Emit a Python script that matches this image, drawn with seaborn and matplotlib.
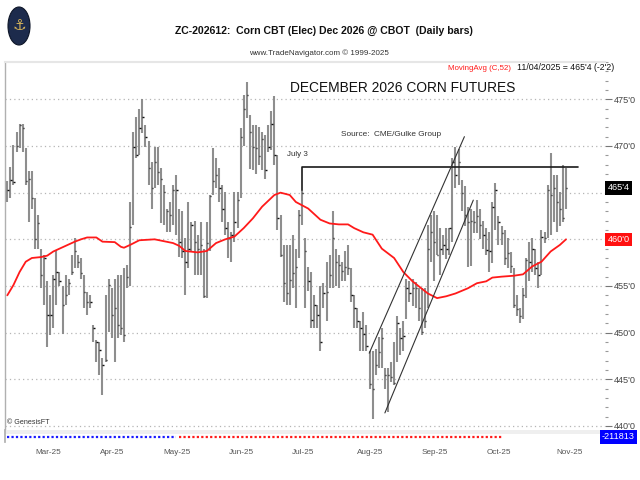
import numpy as np
import pandas as pd
import matplotlib
matplotlib.use("Agg")
import matplotlib.pyplot as plt
import matplotlib.transforms as mtransforms
from matplotlib.patches import Ellipse
from matplotlib.ticker import MultipleLocator, FuncFormatter
import seaborn as sns

# ---------------- data ----------------
holidays = ["2025-02-17", "2025-04-18", "2025-05-26", "2025-06-19", "2025-07-04", "2025-09-01"]
start_date = "2025-02-13"
end_date = "2025-11-04"

highs = [466.2, 467.7, 470.1, 471.5, 472.4, 472.4, 469.8, 467.3, 467.3, 464.4,
         462.6, 459.0, 458.3, 455.5, 454.0, 456.2, 458.9, 456.5, 455.0, 456.2,
         455.8, 458.3, 460.1, 458.3, 458.0, 456.2, 454.4, 454.0, 450.8, 449.2,
         449.0, 447.3, 454.0, 455.8, 454.8, 455.8, 456.2, 456.2, 456.9, 457.3,
         464.0, 471.5, 473.1, 474.0, 475.0, 472.3, 470.5, 468.3, 469.9, 469.9,
         467.6, 465.8, 463.3, 464.0, 465.8, 466.9, 463.3, 463.0, 460.1, 464.0,
         461.9, 462.0, 460.5, 461.9, 459.0, 461.9, 464.75, 469.75, 468.7, 467.6,
         465.8, 465.1, 461.9, 460.8, 465.1, 465.1, 471.9, 475.5, 476.9, 473.3,
         472.25, 472.25, 472.0, 471.5, 471.2, 472.25, 473.7, 475.4, 469.0, 462.6,
         459.4, 459.4, 459.4, 460.5, 459.0, 463.1, 465.3, 460.1, 457.0, 456.5,
         454.0, 453.0, 455.0, 455.3, 457.6, 458.3, 463.0, 459.0, 458.3, 457.6,
         458.7, 459.4, 456.9, 454.0, 452.6, 451.2, 452.25, 450.8, 448.0, 448.0,
         448.25, 449.5, 450.5, 446.2, 446.2, 446.9, 449.0, 451.8, 450.5, 451.2,
         455.8, 455.5, 455.8, 455.4, 454.75, 454.75, 454.75, 461.5, 462.6, 463.0,
         462.6, 461.2, 460.5, 461.2, 461.2, 468.7, 469.9, 469.7, 466.4, 465.7,
         463.5, 463.3, 463.0, 464.2, 463.3, 462.0, 461.2, 460.8, 464.0, 466.0,
         462.5, 461.4, 461.0, 460.1, 458.6, 456.9, 454.0, 452.6, 454.75, 458.0,
         459.75, 460.1, 459.0, 457.6, 461.0, 460.8, 465.8, 469.2, 466.9, 466.9,
         465.1, 468.0, 467.6]
lows = [464.0, 464.4, 465.8, 469.4, 469.8, 469.4, 465.8, 461.9, 463.3, 459.0,
        459.0, 454.8, 453.0, 448.5, 449.8, 450.5, 453.0, 455.0, 449.9, 453.0,
        454.0, 456.2, 456.9, 456.9, 455.8, 452.6, 451.9, 452.6, 449.0, 446.9,
        445.5, 443.3, 446.9, 450.1, 449.4, 446.9, 449.4, 449.8, 449.0, 454.8,
        455.0, 461.5, 468.7, 469.0, 471.4, 469.9, 465.8, 463.3, 465.5, 465.8,
        461.7, 461.5, 460.8, 460.8, 461.5, 460.5, 458.1, 458.0, 454.0, 456.9,
        458.7, 456.2, 456.2, 456.2, 453.7, 453.7, 458.7, 464.75, 465.5, 464.0,
        461.9, 460.5, 458.0, 457.6, 459.75, 461.2, 464.4, 470.0, 473.0, 467.5,
        467.4, 467.0, 468.0, 467.4, 466.5, 469.4, 469.6, 468.0, 461.0, 458.1,
        453.3, 453.0, 453.0, 454.75, 452.6, 458.0, 461.5, 452.6, 454.5, 450.5,
        450.5, 450.5, 448.0, 452.6, 451.2, 454.75, 454.75, 455.0, 454.75, 455.5,
        455.5, 456.2, 453.3, 450.5, 450.5, 448.0, 448.0, 448.0, 444.0, 440.8,
        445.5, 446.2, 446.2, 444.0, 441.5, 444.75, 444.4, 446.9, 447.6, 448.0,
        451.5, 453.3, 452.9, 452.6, 451.2, 449.75, 450.5, 452.6, 457.6, 455.5,
        458.3, 456.2, 458.3, 457.9, 458.3, 459.75, 465.5, 465.8, 463.0, 461.4,
        457.0, 457.1, 460.7, 460.7, 460.0, 459.0, 458.3, 456.5, 457.5, 461.0,
        459.4, 459.4, 457.3, 456.9, 456.4, 452.6, 451.8, 451.0, 451.5, 453.7,
        455.5, 456.5, 456.2, 454.75, 456.2, 459.6, 460.1, 460.5, 461.9, 460.8,
        461.4, 461.9, 463.3]
closes = [465.3, 466.4, 466.1, 470.0, 472.2, 471.9, 466.2, 466.5, 464.4, 460.0,
          461.7, 456.2, 458.0, 451.9, 451.9, 455.8, 456.5, 455.5, 453.0, 454.0,
          455.3, 456.5, 458.7, 457.6, 456.4, 454.4, 453.3, 453.3, 450.5, 449.0,
          448.1, 446.5, 447.1, 455.1, 451.9, 452.6, 450.8, 450.5, 449.8, 456.0,
          461.3, 469.9, 469.0, 471.9, 473.1, 471.0, 467.6, 465.5, 468.3, 467.2,
          466.5, 465.1, 463.0, 462.6, 465.3, 465.3, 459.75, 458.7, 457.6, 459.0,
          461.5, 459.75, 459.0, 459.4, 453.9, 459.6, 464.6, 466.2, 466.9, 465.5,
          463.3, 461.2, 460.1, 460.5, 461.9, 464.2, 471.0, 474.0, 475.5, 471.5,
          469.9, 469.75, 468.9, 470.8, 467.4, 469.9, 472.4, 469.0, 462.25, 458.3,
          455.3, 454.2, 455.6, 456.4, 457.0, 462.6, 465.0, 458.7, 455.5, 451.4,
          453.0, 451.9, 449.0, 454.2, 454.4, 456.2, 460.1, 457.6, 457.25, 456.6,
          457.0, 456.9, 454.0, 452.6, 451.2, 450.5, 449.9, 448.6, 444.5, 444.0,
          446.5, 447.9, 449.4, 445.5, 445.5, 445.3, 444.6, 451.0, 449.4, 449.6,
          454.75, 454.3, 454.75, 454.75, 452.6, 450.1, 451.2, 459.0, 460.8, 459.75,
          458.3, 459.0, 459.4, 459.0, 461.2, 468.3, 466.9, 468.3, 465.0, 462.6,
          461.9, 462.0, 461.9, 462.5, 461.5, 460.5, 458.9, 458.7, 463.5, 465.3,
          461.9, 460.7, 458.0, 458.5, 457.1, 453.0, 452.5, 451.8, 454.0, 457.8,
          457.6, 459.0, 456.9, 456.2, 460.3, 460.1, 465.3, 464.75, 465.5, 464.0,
          463.3, 462.25, 465.5]

# 52-day moving average (bar number, value)
ma_bar = [0, 2, 4, 6, 8, 11, 13, 15, 17, 19, 22, 24, 26, 29, 31, 35, 37, 38, 40, 43,
          48, 51, 54, 56, 58, 62, 65, 68, 71, 74, 77, 80, 83, 87, 89, 92, 94, 98, 102, 105,
          108, 111, 113, 116, 119, 122, 126, 129, 132, 137, 140, 143, 146, 150, 153, 156, 158, 161, 165, 168,
          171, 174, 177, 180, 182]
ma_val = [454.0, 455.1, 456.5, 457.6, 458.0, 458.1, 458.25, 458.7, 459.0, 459.3, 459.75, 460.0, 460.2, 460.2, 459.75, 459.7, 459.2, 459.1, 459.4, 459.9,
          460.0, 459.8, 459.6, 459.3, 458.75, 458.6, 458.75, 459.6, 460.0, 460.3, 461.2, 462.25, 463.5, 464.75, 465.0, 464.75, 464.0, 463.3, 462.1, 461.7,
          461.6, 461.6, 461.2, 460.75, 460.5, 459.0, 458.0, 456.5, 455.5, 454.2, 453.7, 453.9, 454.2, 454.75, 455.3, 455.5, 455.9, 456.0, 456.1, 456.25,
          457.1, 457.6, 458.7, 459.4, 460.0]

# annotations
resistance_level = 467.75
resistance_date = "2025-07-03"
resistance_end_bar = 185.9
channel_upper_bar = [117.9, 148.9]
channel_upper_val = [447.8, 471.0]
channel_lower_bar = [123.0, 151.8]
channel_lower_val = [441.4, 464.2]

# lower indicator strip
indicator_blue_end = 56
indicator_red_end = 162
indicator_label = "-211813"

# ---------------- style ----------------
sns.set_theme(style="white")
plt.rcParams["font.family"] = ["Liberation Sans", "DejaVu Sans"]

dates = pd.bdate_range(start_date, end_date, freq="C", holidays=holidays)
df = pd.DataFrame({"date": dates, "high": highs, "low": lows, "close": closes})
df["bar"] = np.arange(len(df))
ma_df = pd.DataFrame({"bar": ma_bar, "ma": ma_val})

fig = plt.figure(figsize=(6.4, 4.8), dpi=100)
W, H = 640.0, 480.0
renderer = fig.canvas.get_renderer()


def fx(px):
    return px / W


def fy(py):
    return 1 - py / H


def fit(t, target_px, max_size):
    w = t.get_window_extent(renderer).width
    if w > 0:
        t.set_fontsize(min(t.get_fontsize() * target_px / w, max_size))
    return t


def size_for(sample, target_px, base=8.0, max_size=9.0, **kw):
    t = fig.text(0, 0, sample, fontsize=base, **kw)
    w = t.get_window_extent(renderer).width
    t.remove()
    return min(base * target_px / w, max_size)


tick_size = size_for("475'0", 22, max_size=7.5)
month_size = size_for("Mar-25", 26, max_size=8)
flag_size = tick_size

ax = fig.add_axes([fx(5), fy(430), fx(600), (430 - 62) / H])
ax2 = fig.add_axes([fx(5), fy(442), fx(600), 12 / H])

xmin, xmax = -0.75, 194.7
ax.set_xlim(xmin, xmax)
ax.set_ylim(439.57, 479.0)

# grid
ax.yaxis.set_major_locator(MultipleLocator(5))
ax.yaxis.set_minor_locator(MultipleLocator(1))
ax.grid(axis="y", which="major", linestyle=(0, (1, 2.5)), color="#b5b5b5", lw=0.9)
ax.grid(axis="x", visible=False)

# daily bars
ax.vlines(df["bar"], df["low"], df["high"], color="#8e8e8e", lw=1.5, zorder=3)
ax.hlines(df["close"], df["bar"], df["bar"] + 0.45, color="#111111", lw=1.0, zorder=4)

# moving average
sns.lineplot(data=ma_df, x="bar", y="ma", color="#ff1a1a", lw=1.3, ax=ax, zorder=5, legend=False)

# resistance line from July 3
r_bar = int(df.index[df["date"] == pd.Timestamp(resistance_date)][0])
r_high = df.loc[r_bar, "high"]
ax.plot([r_bar, r_bar, resistance_end_bar], [r_high, resistance_level, resistance_level],
        color="#1a1a1a", lw=1.2, zorder=6, clip_on=False)
t_july = ax.text(r_bar - 1.5, resistance_level + 1.0, "July 3", fontsize=7, color="#333333",
                 ha="center", va="bottom")
fit(t_july, 21, 8)

# channel
ax.plot(channel_upper_bar, channel_upper_val, color="#333333", lw=0.8, zorder=6)
ax.plot(channel_lower_bar, channel_lower_val, color="#333333", lw=0.8, zorder=6)


def cents(v):
    whole = int(np.floor(v + 1e-9))
    eighth = int(round((v - whole) * 8))
    return f"{whole}'{eighth}"


flag_values = [closes[-1], ma_val[-1]]


def tick_fmt(v, pos=None):
    if any(abs(v - f) < 1.3 for f in flag_values):
        return ""
    return cents(v)


ax.yaxis.tick_right()
ax.yaxis.set_major_formatter(FuncFormatter(tick_fmt))
ax.tick_params(axis="y", which="major", length=5, width=0.8, color="#777777",
               labelsize=tick_size, labelcolor="#444444", pad=1.5, direction="out")
ax.tick_params(axis="y", which="minor", length=2.5, width=0.8, color="#999999", direction="out")
ax.set_xticks([])
ax.set_xlabel("")
ax.set_ylabel("")
for s in ["right", "bottom"]:
    ax.spines[s].set_visible(False)
ax.spines["left"].set_color("#b0b0b0")
ax.spines["left"].set_linewidth(1.0)
ax.spines["top"].set_color("#e6e6e6")
ax.spines["top"].set_linewidth(1.5)

# value flags at right
blend = mtransforms.blended_transform_factory(ax.transAxes, ax.transData)
ax.text(1.004, closes[-1], cents(closes[-1]), transform=blend, fontsize=flag_size, color="white",
        ha="left", va="center", clip_on=False, zorder=10,
        bbox=dict(facecolor="black", edgecolor="none", pad=1.5))
ax.text(1.004, ma_val[-1], cents(ma_val[-1]), transform=blend, fontsize=flag_size, color="white",
        ha="left", va="center", clip_on=False, zorder=10,
        bbox=dict(facecolor="#ff1010", edgecolor="none", pad=1.5))

# indicator strip
ax2.set_xlim(xmin, xmax)
ax2.set_ylim(0, 1)
ax2.axhspan(0.68, 1.0, color="#efefef", lw=0)
ax2.plot(df["bar"][:indicator_blue_end], np.full(indicator_blue_end, 0.42), color="#1a1aff",
         lw=1.6, linestyle=(0, (1, 1)))
ax2.plot(df["bar"][indicator_blue_end:indicator_red_end],
         np.full(indicator_red_end - indicator_blue_end, 0.42), color="#ff1a1a",
         lw=1.6, linestyle=(0, (1, 1)))
ax2.set_xticks([])
ax2.set_yticks([])
for s in ["right", "top", "bottom"]:
    ax2.spines[s].set_visible(False)
ax2.spines["left"].set_color("#b0b0b0")
ax2.text(0.995, 0.42, indicator_label, transform=ax2.transAxes, fontsize=flag_size, color="white",
         ha="left", va="center", clip_on=False,
         bbox=dict(facecolor="#0000ff", edgecolor="none", pad=1.5))

# month labels
month_first = df.groupby(df["date"].dt.to_period("M"))["bar"].first().iloc[1:]
lab_tr = mtransforms.blended_transform_factory(ax2.transData, fig.transFigure) + \
    mtransforms.ScaledTranslation(7 / 100, 0, fig.dpi_scale_trans)
for b in month_first:
    ax2.text(b, fy(452), df.loc[b, "date"].strftime("%b-%y"), transform=lab_tr,
             fontsize=month_size, color="#555555", ha="center", va="center")

# titles and texts
t = fig.text(fx(324), fy(31), "ZC-202612:  Corn CBT (Elec) Dec 2026 @ CBOT  (Daily bars)",
             fontsize=10, fontweight="bold", ha="center", va="center", color="#111111")
fit(t, 300, 11)
t = fig.text(fx(319), fy(53), "www.TradeNavigator.com \u00a9 1999-2025", fontsize=7,
             ha="center", va="center", color="#333333")
fit(t, 140, 8)
t = fig.text(fx(511), fy(68), "MovingAvg (C,52)", fontsize=6, color="#ff1a1a", ha="right", va="center")
fit(t, 64, 7)
t = fig.text(fx(614), fy(68), "11/04/2025 = 465'4 (-2'2)", fontsize=6, color="#111111",
             ha="right", va="center")
fit(t, 98, 7)
t = fig.text(fx(403), fy(88.5), "DECEMBER 2026 CORN FUTURES", fontsize=16, ha="center", va="center",
             color="#111111")
fit(t, 225, 17)
t = fig.text(fx(391), fy(135), "Source:  CME/Gulke Group", fontsize=7, ha="center", va="center",
             color="#333333")
fit(t, 100, 8)
t = fig.text(fx(7), fy(423), "\u00a9 GenesisFT", fontsize=6.5, ha="left", va="center", color="#333333")
fit(t, 42, 7.5)

# logo
fig.patches.append(Ellipse((fx(19), fy(26)), 22 / W, 38 / H, transform=fig.transFigure,
                           facecolor="#1d2b4c", edgecolor="#0e1628", lw=0.8))
fig.text(fx(19), fy(26), "\u2693", fontsize=11, color="#d4b25a", ha="center", va="center",
         family=["DejaVu Sans"])

fig.savefig("out.png", dpi=100, facecolor="white")
